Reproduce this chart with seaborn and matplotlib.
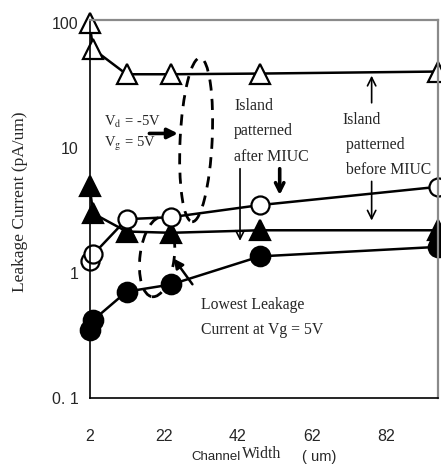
import numpy as np
import pandas as pd
import seaborn as sns
import matplotlib.pyplot as plt
from matplotlib.patches import Ellipse

# channel width (um) and leakage current (pA/um) for the four series
width = [2, 3, 12, 24, 48, 96]
open_tri = [100, 62, 39, 39, 39.5, 41]
filled_tri = [5.0, 3.0, 2.15, 2.1, 2.2, 2.2]
open_circ = [1.24, 1.41, 2.7, 2.8, 3.5, 4.9]
filled_circ = [0.35, 0.42, 0.71, 0.81, 1.36, 1.62]

xticks = [2, 22, 42, 62, 82]
yticks = [0.1, 1, 10, 100]
ytick_labels = ['0. 1', '1', '10', '100']

sns.set_style('white')
plt.rcParams['font.family'] = ['Liberation Sans', 'DejaVu Sans']
plt.rcParams['mathtext.fontset'] = 'stix'

fig = plt.figure(figsize=(4.41, 4.66), dpi=100)
ax = fig.add_axes([89.5 / 441, 1 - 398 / 466, 348.5 / 441, 378 / 466])

df = pd.DataFrame({'w': width, 'ot': open_tri, 'ft': filled_tri,
                   'oc': open_circ, 'fc': filled_circ})

common = dict(color='black', lw=1.8, markeredgecolor='black',
              markeredgewidth=1.6, clip_on=False, sort=False)
sns.lineplot(data=df, x='w', y='ot', marker='^', markersize=14,
             markerfacecolor='white', ax=ax, **common)
sns.lineplot(data=df, x='w', y='ft', marker='^', markersize=14,
             markerfacecolor='black', ax=ax, **common)
sns.lineplot(data=df, x='w', y='oc', marker='o', markersize=13,
             markerfacecolor='white', ax=ax, **common)
sns.lineplot(data=df, x='w', y='fc', marker='o', markersize=14,
             markerfacecolor='black', ax=ax, **common)

ax.set_yscale('log')
ax.set_xlim(2, 96)
ax.set_ylim(0.1, 106)
ax.set_xticks(xticks)
ax.set_xticklabels([str(t) for t in xticks])
ax.set_yticks(yticks)
ax.set_yticklabels(ytick_labels)
ax.minorticks_off()
ax.set_xlabel('')
ax.set_ylabel('')
ax.tick_params(axis='both', direction='inout', length=8, width=1,
               labelsize=11.5, color='black')
ax.tick_params(axis='x', pad=18)
ax.tick_params(axis='y', pad=4)

for s in ['left', 'bottom']:
    ax.spines[s].set_color('black')
    ax.spines[s].set_linewidth(1.2)
for s in ['top', 'right']:
    ax.spines[s].set_color('#8a8a8a')
    ax.spines[s].set_linewidth(1.6)

# dashed ellipses
ax.add_patch(Ellipse((0.306, 0.683), 0.092, 0.434, angle=-3, transform=ax.transAxes,
                     fill=False, ls=(0, (4, 3)), lw=2, color='black', clip_on=False))
ax.add_patch(Ellipse((0.194, 0.373), 0.098, 0.212, angle=-8, transform=ax.transAxes,
                     fill=False, ls=(0, (4, 3)), lw=2, color='black', clip_on=False))

serif = ['Liberation Serif', 'DejaVu Serif']
ax.text(5.8, 16.3, r'V$_\mathrm{d}$ = -5V', family=serif, fontsize=10.5, va='center')
ax.text(5.8, 10.8, r'V$_\mathrm{g}$ = 5V', family=serif, fontsize=10.5, va='center')
ax.annotate('', xy=(26.6, 13.1), xytext=(17.4, 13.1),
            arrowprops=dict(arrowstyle='-|>', lw=2.6, color='black', mutation_scale=15))

ax.text(41, 13.6, 'Island\npatterned\nafter MIUC', family=serif, fontsize=11.5,
        va='center', ha='left', linespacing=1.8)
ax.annotate('', xy=(53.3, 4.0), xytext=(53.3, 7.2),
            arrowprops=dict(arrowstyle='->', lw=2.6, color='black', mutation_scale=15))
ax.annotate('', xy=(42.6, 1.72), xytext=(42.6, 7.2),
            arrowprops=dict(arrowstyle='->', lw=1.2, color='black', mutation_scale=15))

ax.text(70.2, 10.6, 'Island\n patterned\n before MIUC', family=serif, fontsize=11.3,
        va='center', ha='left', linespacing=1.75)
ax.annotate('', xy=(78.1, 40), xytext=(78.1, 21.9),
            arrowprops=dict(arrowstyle='->', lw=1.2, color='black', mutation_scale=15))
ax.annotate('', xy=(78.1, 2.5), xytext=(78.1, 5.7),
            arrowprops=dict(arrowstyle='->', lw=1.2, color='black', mutation_scale=15))

ax.text(32.1, 0.44, 'Lowest Leakage\nCurrent at Vg = 5V', family=serif, fontsize=11.3,
        va='center', ha='left', linespacing=1.8)
ax.annotate('', xy=(24.3, 1.36), xytext=(30.2, 0.78),
            arrowprops=dict(arrowstyle='-|>', lw=1.8, color='black', mutation_scale=14))

# axis titles
fig.text(20 / 441, 1 - 202 / 466, 'Leakage Current (pA/um)', family=serif, fontsize=12.5,
         rotation=90, ha='center', va='center')
fig.text(191 / 441, 1 - 457 / 466, 'Channel', fontsize=9.5, ha='left', va='center')
fig.text(242 / 441, 1 - 454 / 466, 'Width', family=serif, fontsize=11.5, ha='left', va='center')
fig.text(302 / 441, 1 - 457 / 466, '( um)', fontsize=10.5, ha='left', va='center')

fig.savefig('out.png', dpi=100)
